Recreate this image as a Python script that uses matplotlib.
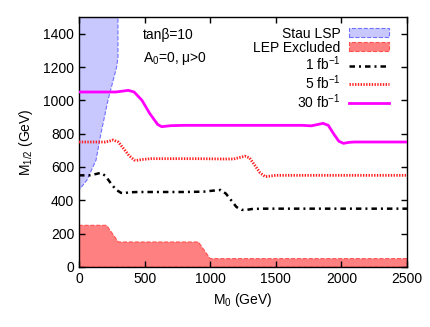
import matplotlib
matplotlib.use("Agg")
import matplotlib.pyplot as plt
import numpy as np

plt.rcParams['font.family'] = ['Liberation Sans', 'DejaVu Sans']
plt.rcParams['font.size'] = 10
plt.rcParams['mathtext.fontset'] = 'custom'
plt.rcParams['mathtext.rm'] = 'Liberation Sans'
plt.rcParams['mathtext.it'] = 'Liberation Sans:italic'

# Stau LSP region boundary (M0, M1/2)
stau_m0 = [0, 0, 61, 130, 168, 221, 287, 297, 297]
stau_m12 = [1500, 462, 522, 642, 804, 1002, 1200, 1260, 1500]

# LEP excluded region
lep_m0 = [0, 0, 210, 300, 910, 1000, 2500, 2500]
lep_m12 = [0, 250, 250, 150, 150, 50, 50, 0]

# reach contours
m0_1fb = [0, 80, 130, 165, 200, 240, 280, 320, 340, 380, 450, 600, 800, 950,
          1020, 1080, 1120, 1160, 1200, 1240, 1270, 1320, 1400, 2500]
m12_1fb = [550, 550, 558, 565, 548, 505, 465, 445, 442, 448, 450, 450, 450, 452,
           458, 462, 440, 400, 360, 343, 342, 348, 350, 350]

m0_5fb = [0, 100, 200, 230, 260, 300, 340, 380, 420, 440, 480, 550, 700, 900,
          1100, 1180, 1230, 1265, 1300, 1340, 1380, 1420, 1450, 1500, 1600, 2500]
m12_5fb = [750, 750, 750, 755, 762, 750, 710, 670, 642, 640, 645, 650, 650, 650,
           648, 648, 658, 665, 655, 610, 565, 542, 545, 550, 550, 550]

m0_30fb = [0, 100, 200, 280, 330, 375, 420, 480, 540, 600, 630, 700, 800, 1000,
           1200, 1400, 1600, 1700, 1770, 1820, 1860, 1900, 1940, 1980, 2015,
           2060, 2100, 2200, 2500]
m12_30fb = [1050, 1050, 1050, 1050, 1055, 1060, 1050, 1000, 920, 855, 842, 848,
            850, 850, 850, 850, 850, 850, 847, 855, 862, 850, 800, 755, 742, 748,
            750, 750, 750]

fig = plt.figure(figsize=(4.31, 3.27), dpi=100)
ax = fig.add_axes([0.1833, 0.1835, 0.761, 0.7645])

ax.fill(stau_m0, stau_m12, facecolor='#c8c8ff', edgecolor='#7070ff',
        linestyle='--', linewidth=0.8, label='Stau LSP', zorder=1)
ax.fill(lep_m0, lep_m12, facecolor='#ff8080', edgecolor='#ff5050',
        linestyle='--', linewidth=0.8, label='LEP Excluded', zorder=1)

ax.plot(m0_1fb, m12_1fb, color='black', linewidth=1.8,
        dashes=(2.2, 1.6, 0.8, 1.6), label='1 fb$^{-1}$', zorder=3)
ax.plot(m0_5fb, m12_5fb, color='#ff2020', linewidth=2,
        dashes=(0.5, 0.5), label='5 fb$^{-1}$', zorder=3)
ax.plot(m0_30fb, m12_30fb, color='#ff00ff', linewidth=2,
        label='30 fb$^{-1}$', zorder=3)

ax.set_xlim(0, 2500)
ax.set_ylim(0, 1500)
ax.set_xticks(np.arange(0, 2501, 500))
ax.set_yticks(np.arange(0, 1401, 200))
ax.tick_params(direction='in', top=True, right=True, length=4, width=1)
for s in ax.spines.values():
    s.set_linewidth(1)

ax.set_xlabel('M$_0$ (GeV)')
ax.set_ylabel('M$_{1/2}$ (GeV)', labelpad=6)

ax.text(488, 1392, 'tanβ=10', ha='left', va='center')
ax.text(488, 1254, 'A$_0$=0, μ>0', ha='left', va='center')

ax.legend(loc='upper right', markerfirst=False, frameon=False,
          handlelength=2.9, handleheight=0.6, labelspacing=0.0,
          borderaxespad=0.3, handletextpad=0.6, bbox_to_anchor=(0.975, 1.0))

fig.savefig('out.png', dpi=100)
